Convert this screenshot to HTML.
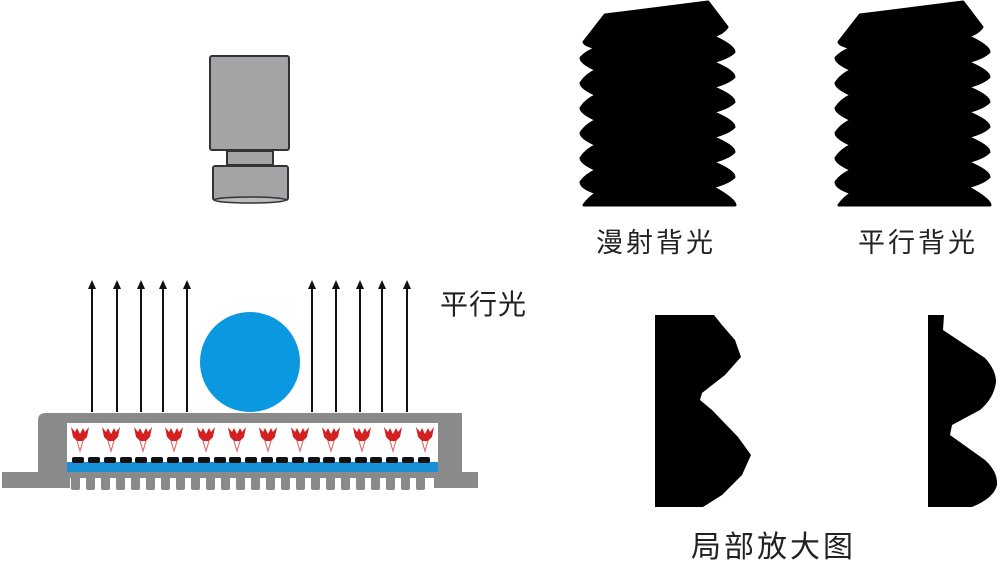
<!DOCTYPE html>
<html><head><meta charset="utf-8"><style>
html,body{margin:0;padding:0;background:#fff;}
svg{display:block;}
text{font-family:"Liberation Sans","Noto Sans CJK SC",sans-serif;fill:#222;}
</style></head><body>
<svg width="1002" height="588" viewBox="0 0 1002 588" xmlns="http://www.w3.org/2000/svg">
<defs>
<g id="screw">
<path d="M605,15 L708,2 L727,27 Q722,34 712,36 Q734,46 734,52 Q728,58 712,62 Q734,71 734,77 Q728,83 712,87 Q734,96 734,102 Q728,108 712,112 Q734,121 734,127 Q728,133 712,137 Q734,146 734,152 Q728,158 712,162 Q734,171 734,177 Q728,183 712,187 Q734,199 735,205 L584,205 Q590,197 597,193 Q581,188 581,182 Q586,175 597,170 Q581,163 581,158 Q586,150 597,145 Q581,138 581,133 Q586,125 597,120 Q581,113 581,108 Q586,100 597,95 Q581,88 581,83 Q586,75 597,70 Q581,63 581,58 Q586,52 597,48 Q584,45 584,42 Z" fill="#000" stroke="#000" stroke-width="3" stroke-linejoin="round"/>
</g>
<g id="led">
<path d="M-9,0 L-5,5 L-3,1 L0,7 L3,1 L5,5 L9,0 L7,10 L3,14 L-3,14 L-7,10 Z" fill="#d42020"/>
<path d="M-3,14 L0,24 L3,14" fill="none" stroke="#e07070" stroke-width="1.2"/>
</g>
<g id="arr">
<line x1="0" y1="412" x2="0" y2="286" stroke="#111" stroke-width="2"/>
<path d="M-4,289 L0,280 L4,289 Z" fill="#111"/>
</g>
</defs>

<!-- camera -->
<rect x="210" y="56" width="79" height="94" rx="2" fill="#a4a4a6" stroke="#333" stroke-width="2"/>
<rect x="227" y="151" width="46" height="14" fill="#a4a4a6" stroke="#333" stroke-width="2"/>
<rect x="213" y="166" width="75" height="34" rx="2" fill="#a4a4a6" stroke="#333" stroke-width="2"/>
<ellipse cx="250" cy="200" rx="36" ry="3" fill="#bbb" stroke="#333" stroke-width="1.5"/>

<!-- arrows -->
<use href="#arr" x="92"/><use href="#arr" x="117"/><use href="#arr" x="141"/><use href="#arr" x="163"/><use href="#arr" x="187"/>
<use href="#arr" x="312"/><use href="#arr" x="336"/><use href="#arr" x="360"/><use href="#arr" x="382"/><use href="#arr" x="407"/>
<circle cx="250" cy="362" r="50" fill="#0a98e0"/>

<!-- light base -->
<path d="M38,472 L38,420 Q38,413 46,413 L462,413 L462,472 Z" fill="#8a8a8a"/>
<rect x="2" y="472" width="476" height="16" fill="#8a8a8a"/>
<rect x="70" y="478" width="364" height="12" fill="#fff"/>
<rect x="67" y="423" width="371" height="40" fill="#fff"/>
<rect x="67" y="462" width="371" height="10" fill="#1890d8"/>
<g fill="#111">
<rect x="72" y="457" width="12" height="6" rx="2"/><rect x="88" y="457" width="12" height="6" rx="2"/>
<rect x="104" y="457" width="12" height="6" rx="2"/><rect x="120" y="457" width="12" height="6" rx="2"/>
<rect x="135" y="457" width="12" height="6" rx="2"/><rect x="151" y="457" width="12" height="6" rx="2"/>
<rect x="167" y="457" width="12" height="6" rx="2"/><rect x="182" y="457" width="12" height="6" rx="2"/>
<rect x="198" y="457" width="12" height="6" rx="2"/><rect x="214" y="457" width="12" height="6" rx="2"/>
<rect x="229" y="457" width="12" height="6" rx="2"/><rect x="245" y="457" width="12" height="6" rx="2"/>
<rect x="261" y="457" width="12" height="6" rx="2"/><rect x="276" y="457" width="12" height="6" rx="2"/>
<rect x="292" y="457" width="12" height="6" rx="2"/><rect x="308" y="457" width="12" height="6" rx="2"/>
<rect x="323" y="457" width="12" height="6" rx="2"/><rect x="339" y="457" width="12" height="6" rx="2"/>
<rect x="355" y="457" width="12" height="6" rx="2"/><rect x="370" y="457" width="12" height="6" rx="2"/>
<rect x="386" y="457" width="12" height="6" rx="2"/><rect x="402" y="457" width="12" height="6" rx="2"/>
<rect x="418" y="457" width="12" height="6" rx="2"/>
</g>
<g>
<use href="#led" x="80" y="427"/><use href="#led" x="111" y="427"/><use href="#led" x="143" y="427"/>
<use href="#led" x="174" y="427"/><use href="#led" x="206" y="427"/><use href="#led" x="237" y="427"/>
<use href="#led" x="268" y="427"/><use href="#led" x="300" y="427"/><use href="#led" x="331" y="427"/>
<use href="#led" x="362" y="427"/><use href="#led" x="393" y="427"/><use href="#led" x="425" y="427"/>
</g>
<!-- fins -->
<g fill="#8a8a8a">
<rect x="71" y="476" width="9" height="14" rx="2"/><rect x="86" y="476" width="9" height="14" rx="2"/>
<rect x="101" y="476" width="9" height="14" rx="2"/><rect x="116" y="476" width="9" height="14" rx="2"/>
<rect x="131" y="476" width="9" height="14" rx="2"/><rect x="146" y="476" width="9" height="14" rx="2"/>
<rect x="161" y="476" width="9" height="14" rx="2"/><rect x="176" y="476" width="9" height="14" rx="2"/>
<rect x="191" y="476" width="9" height="14" rx="2"/><rect x="206" y="476" width="9" height="14" rx="2"/>
<rect x="221" y="476" width="9" height="14" rx="2"/><rect x="236" y="476" width="9" height="14" rx="2"/>
<rect x="251" y="476" width="9" height="14" rx="2"/><rect x="266" y="476" width="9" height="14" rx="2"/>
<rect x="281" y="476" width="9" height="14" rx="2"/><rect x="296" y="476" width="9" height="14" rx="2"/>
<rect x="311" y="476" width="9" height="14" rx="2"/><rect x="326" y="476" width="9" height="14" rx="2"/>
<rect x="341" y="476" width="9" height="14" rx="2"/><rect x="356" y="476" width="9" height="14" rx="2"/>
<rect x="371" y="476" width="9" height="14" rx="2"/><rect x="386" y="476" width="9" height="14" rx="2"/>
<rect x="401" y="476" width="9" height="14" rx="2"/><rect x="416" y="476" width="9" height="14" rx="2"/>
</g>
<rect x="70" y="472" width="364" height="6" fill="#8a8a8a"/>

<text x="440" y="314" font-size="28" letter-spacing="1">平行光</text>

<!-- screws -->
<use href="#screw"/>
<use href="#screw" x="255"/>
<text x="596" y="252" font-size="27" letter-spacing="3">漫射背光</text>
<text x="858" y="252" font-size="27" letter-spacing="3">平行背光</text>

<!-- zoomed profiles -->
<path d="M655,315 L714,315 L722,325 L735,340 L741,357 L725,375 L702,393 L700,400 L712,410 L738,437 L751,455 L742,475 L722,495 L703,507 L655,507 Z" fill="#000"/>
<path d="M928,315 L944,315 L943,330 L985,358 Q996,370 996,382 Q994,398 980,410 L952,425 L950,435 L985,460 Q998,472 997,485 Q994,498 972,507 L928,507 Z" fill="#000"/>
<text x="691" y="557" font-size="30" letter-spacing="3">局部放大图</text>
</svg>
</body></html>
